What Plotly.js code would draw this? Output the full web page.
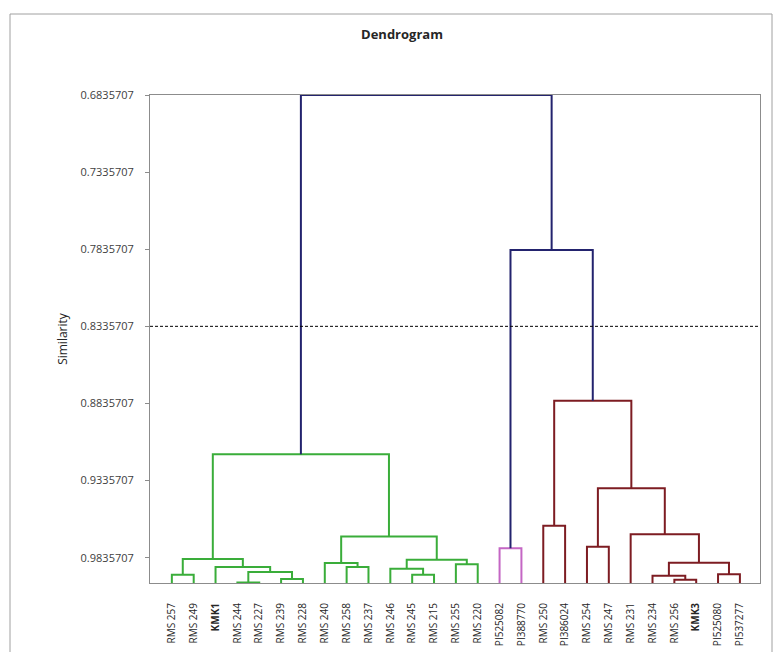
<!DOCTYPE html>
<html>
<head>
<meta charset="utf-8">
<script src="https://cdn.plot.ly/plotly-3.0.1.min.js"></script>
<style>html,body{margin:0;padding:0;background:#fff;}#chart{width:778px;height:652px;}</style>
</head>
<body>
<div id="chart"></div>
<script>
// Leaf labels in display order
const leafLabels = ["RMS 257","RMS 249","KMK1","RMS 244","RMS 227","RMS 239","RMS 228",
  "RMS 240","RMS 258","RMS 237","RMS 246","RMS 245","RMS 215","RMS 255","RMS 220",
  "PI525082","PI388770","RMS 250","PI386024","RMS 254","RMS 247","RMS 231","RMS 234",
  "RMS 256","KMK3","PI525080","PI537277"];
const leafSimilarity = 1.0;
// Merges (linkage): child A, child B (index < 27 = leaf, >= 27 = earlier merge), similarity
const mergeLeft  = [3,5,27,2,0,31,8,7,11,10,13,36,34,32,15,17,19,23,22,25,45,21,43,42,41,40];
const mergeRight = [4,6,28,29,1,30,9,33,12,35,14,37,38,39,16,18,20,24,44,26,46,47,48,49,50,51];
const mergeSimilarity = [0.99964,0.99745,0.99291,0.98967,0.99466,0.98448,0.98967,0.98708,
  0.99466,0.99077,0.98785,0.98494,0.96984,0.91656,0.97748,0.96290,0.97651,0.99790,0.99531,
  0.99433,0.98688,0.96841,0.93860,0.88189,0.78403,0.6835707];
const mergeGroup = ["g","g","g","g","g","g","g","g","g","g","g","g","g","g","p",
  "r","r","r","r","r","r","r","r","r","b","b"];
const groupColors = {g:"#3aad3a", p:"#c466c4", r:"#7d1c22", b:"#23236e"};
const yTickVals = [0.6835707,0.7335707,0.7835707,0.8335707,0.8835707,0.9335707,0.9835707];
const yTickText = ["0.6835707","0.7335707","0.7835707","0.8335707","0.8835707","0.9335707","0.9835707"];
const cutLevel = 0.8335707;

const nLeaf = leafLabels.length;
const nodeX = [], nodeH = [];
for (let i = 0; i < nLeaf; i++) { nodeX.push(i); nodeH.push(leafSimilarity); }
const paths = {};
for (let k = 0; k < mergeLeft.length; k++) {
  const a = mergeLeft[k], b = mergeRight[k], h = mergeSimilarity[k];
  const g = mergeGroup[k];
  if (!paths[g]) paths[g] = {x: [], y: []};
  paths[g].x.push(nodeX[a], nodeX[a], nodeX[b], nodeX[b], null);
  paths[g].y.push(nodeH[a], h, h, nodeH[b], null);
  nodeX.push((nodeX[a] + nodeX[b]) / 2);
  nodeH.push(h);
}
const traces = Object.keys(paths).map(g => ({
  type: "scatter", mode: "lines", x: paths[g].x, y: paths[g].y,
  line: {color: groupColors[g], width: 2}, hoverinfo: "skip", showlegend: false
}));

const fontFam = "Open Sans, sans-serif";
const L = 150, R = 760, T = 95, B = 583;
const layout = {
  width: 778, height: 652,
  margin: {l: L, r: 778 - R, t: T, b: 652 - B, pad: 0},
  paper_bgcolor: "#fff", plot_bgcolor: "#fff",
  title: {text: "<b>Dendrogram</b>", font: {family: fontFam, size: 13, color: "#262626"},
    xref: "container", x: 402/778, xanchor: "center", yref: "container", y: 1 - 34/652, yanchor: "middle"},
  xaxis: {range: [-1, 26.92], tickmode: "array", tickvals: leafLabels.map((_, i) => i),
    ticktext: leafLabels.map(s => s.startsWith("KMK") ? "<b>" + s + "</b>" : s),
    tickangle: -90, ticks: "", showgrid: false, zeroline: false, showline: true, mirror: true,
    linecolor: "#8c8c8c", linewidth: 1, ticklabelstandoff: 15,
    tickfont: {family: fontFam, size: 10, color: "#262626"}},
  yaxis: {range: [1.0, 0.6835707], tickmode: "array", tickvals: yTickVals, ticktext: yTickText,
    ticks: "outside", ticklen: 4, tickcolor: "#8c8c8c", showgrid: false, zeroline: false,
    showline: true, mirror: true, linecolor: "#8c8c8c", linewidth: 1, ticklabelstandoff: 9,
    tickfont: {family: fontFam, size: 11, color: "#404040"},
    title: {text: "Similarity", standoff: 10, font: {family: fontFam, size: 12, color: "#262626"}}},
  shapes: [
    {type: "line", xref: "paper", yref: "y", x0: 0, x1: 1, y0: cutLevel, y1: cutLevel,
     line: {color: "#000", width: 1, dash: "3px,2px"}},
    {type: "rect", xref: "paper", yref: "paper", x0: (10 - L)/(R - L), x1: (772 - L)/(R - L),
     y0: -(665 - B)/(B - T), y1: 1 + (T - 14)/(B - T), line: {color: "#a0a0a0", width: 1}}
  ]
};
Plotly.newPlot("chart", traces, layout, {displayModeBar: false, staticPlot: true});
</script>
</body>
</html>
